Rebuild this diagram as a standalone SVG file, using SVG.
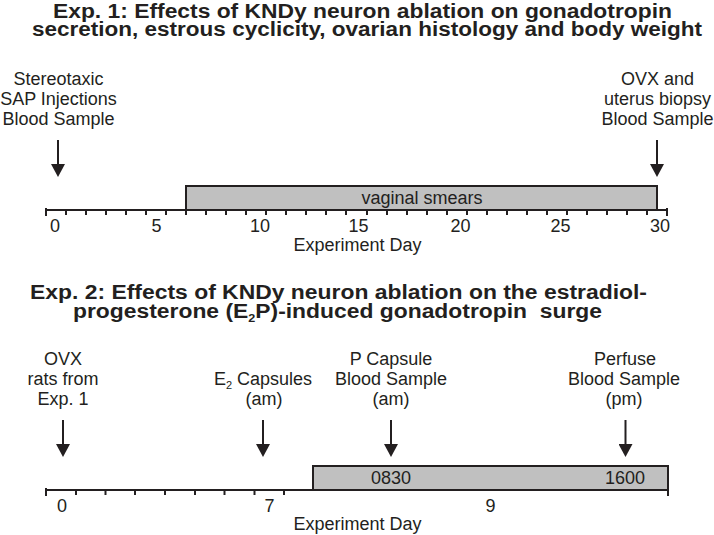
<svg xmlns="http://www.w3.org/2000/svg" width="714" height="535" viewBox="0 0 714 535">
<style>
  text { font-family: "Liberation Sans", Arial, sans-serif; fill: #231f20; }
  .title { font-size: 20px; font-weight: bold; white-space: pre; }
  .lbl { font-size: 18px; text-anchor: middle; }
  .num { font-size: 18px; text-anchor: middle; }
  .axis { stroke: #231f20; stroke-width: 2; fill: none; }
  .tick { stroke: #231f20; stroke-width: 2; }
  .box { fill: #c0c0c0; stroke: #231f20; stroke-width: 2; }
  .arrow { stroke: #231f20; stroke-width: 2; fill: none; marker-end: url(#head); }
  .sub { font-size: 11px; }
</style>
<defs>
  <marker id="head" markerUnits="userSpaceOnUse" markerWidth="14" markerHeight="14" refX="0" refY="7" orient="auto">
    <path d="M0,0 L13,7 L0,14 z" fill="#231f20"/>
  </marker>
</defs>
<rect width="714" height="535" fill="#ffffff"/>

<g id="title1">
  <text class="title" x="53" y="18" textLength="619" lengthAdjust="spacingAndGlyphs">Exp. 1: Effects of KNDy neuron ablation on gonadotropin</text>
  <text class="title" x="32" y="36" textLength="670" lengthAdjust="spacingAndGlyphs">secretion, estrous cyclicity, ovarian histology and body weight</text>
</g>

<g id="exp1-start-label">
  <text class="lbl" x="58.5" y="85">Stereotaxic</text>
  <text class="lbl" x="58.5" y="105">SAP Injections</text>
  <text class="lbl" x="58.5" y="125">Blood Sample</text>
</g>
<g id="exp1-end-label">
  <text class="lbl" x="657.5" y="85">OVX and</text>
  <text class="lbl" x="657.5" y="105">uterus biopsy</text>
  <text class="lbl" x="657.5" y="125">Blood Sample</text>
</g>

<g id="exp1-smears">
  <rect class="box" x="186" y="186" width="471" height="24"/>
  <text class="lbl" x="422" y="204">vaginal smears</text>
</g>

<g id="exp1-axis">
  <line class="axis" x1="45" y1="210" x2="668" y2="210"/>
  <g class="tick">
    <line x1="46" y1="208" x2="46" y2="216"/>
    <line x1="66" y1="210" x2="66" y2="215"/>
    <line x1="86" y1="210" x2="86" y2="215"/>
    <line x1="106" y1="210" x2="106" y2="215"/>
    <line x1="126" y1="210" x2="126" y2="215"/>
    <line x1="146" y1="210" x2="146" y2="215"/>
    <line x1="166" y1="210" x2="166" y2="215"/>
    <line x1="186" y1="210" x2="186" y2="215"/>
    <line x1="206" y1="210" x2="206" y2="215"/>
    <line x1="226" y1="210" x2="226" y2="215"/>
    <line x1="246" y1="210" x2="246" y2="215"/>
    <line x1="266" y1="210" x2="266" y2="215"/>
    <line x1="286" y1="210" x2="286" y2="215"/>
    <line x1="306" y1="210" x2="306" y2="215"/>
    <line x1="326" y1="210" x2="326" y2="215"/>
    <line x1="346" y1="210" x2="346" y2="215"/>
    <line x1="367" y1="210" x2="367" y2="215"/>
    <line x1="387" y1="210" x2="387" y2="215"/>
    <line x1="407" y1="210" x2="407" y2="215"/>
    <line x1="427" y1="210" x2="427" y2="215"/>
    <line x1="447" y1="210" x2="447" y2="215"/>
    <line x1="467" y1="210" x2="467" y2="215"/>
    <line x1="487" y1="210" x2="487" y2="215"/>
    <line x1="507" y1="210" x2="507" y2="215"/>
    <line x1="527" y1="210" x2="527" y2="215"/>
    <line x1="547" y1="210" x2="547" y2="215"/>
    <line x1="567" y1="210" x2="567" y2="215"/>
    <line x1="587" y1="210" x2="587" y2="215"/>
    <line x1="607" y1="210" x2="607" y2="215"/>
    <line x1="627" y1="210" x2="627" y2="215"/>
    <line x1="647" y1="210" x2="647" y2="215"/>
    <line x1="667" y1="208" x2="667" y2="216"/>
  </g>
  <text class="num" x="55" y="232">0</text>
  <text class="num" x="156.5" y="232">5</text>
  <text class="num" x="260" y="232">10</text>
  <text class="num" x="358.5" y="232">15</text>
  <text class="num" x="460.5" y="232">20</text>
  <text class="num" x="560.5" y="232">25</text>
  <text class="num" x="660" y="232">30</text>
  <text class="lbl" x="357.5" y="251">Experiment Day</text>
</g>

<g id="title2">
  <text class="title" x="30" y="299" textLength="617" lengthAdjust="spacingAndGlyphs">Exp. 2: Effects of KNDy neuron ablation on the estradiol-</text>
  <text class="title" x="73" y="318" textLength="529" lengthAdjust="spacingAndGlyphs">progesterone (E<tspan class="sub" dy="4">2</tspan><tspan dy="-4">P)-induced gonadotropin  surge</tspan></text>
</g>

<g id="exp2-ovx-label">
  <text class="lbl" x="63" y="365">OVX</text>
  <text class="lbl" x="63" y="385">rats from</text>
  <text class="lbl" x="63" y="405">Exp. 1</text>
</g>
<g id="exp2-e2-label">
  <text class="lbl" x="263" y="385">E<tspan class="sub" dy="4">2</tspan><tspan dy="-4"> Capsules</tspan></text>
  <text class="lbl" x="264" y="405">(am)</text>
</g>
<g id="exp2-p-label">
  <text class="lbl" x="391" y="365">P Capsule</text>
  <text class="lbl" x="391" y="385">Blood Sample</text>
  <text class="lbl" x="391" y="405">(am)</text>
</g>
<g id="exp2-perfuse-label">
  <text class="lbl" x="625" y="365">Perfuse</text>
  <text class="lbl" x="624" y="385">Blood Sample</text>
  <text class="lbl" x="624" y="405">(pm)</text>
</g>

<g id="exp2-surge">
  <rect class="box" x="313" y="466" width="355" height="24"/>
  <text class="num" x="391" y="484">0830</text>
  <text class="num" x="625" y="484">1600</text>
</g>

<g id="exp2-axis">
  <line class="axis" x1="45" y1="490" x2="669" y2="490"/>
  <g class="tick">
    <line x1="46" y1="488" x2="46" y2="496"/>
    <line x1="76" y1="490" x2="76" y2="495"/>
    <line x1="105.5" y1="490" x2="105.5" y2="495"/>
    <line x1="135" y1="490" x2="135" y2="495"/>
    <line x1="165" y1="490" x2="165" y2="495"/>
    <line x1="195" y1="490" x2="195" y2="495"/>
    <line x1="224.5" y1="490" x2="224.5" y2="495"/>
    <line x1="254.5" y1="490" x2="254.5" y2="495"/>
    <line x1="284" y1="490" x2="284" y2="495"/>
    <line x1="668" y1="490" x2="668" y2="496"/>
  </g>
  <text class="num" x="62" y="512">0</text>
  <text class="num" x="269.5" y="512">7</text>
  <text class="num" x="490.5" y="512">9</text>
  <text class="lbl" x="357.5" y="530">Experiment Day</text>
</g>

<g id="connectors">
  <line class="arrow" x1="58" y1="140" x2="58" y2="164"/>
  <line class="arrow" x1="657" y1="140" x2="657" y2="164"/>
  <line class="arrow" x1="63" y1="420" x2="63" y2="444"/>
  <line class="arrow" x1="263" y1="420" x2="263" y2="444"/>
  <line class="arrow" x1="391" y1="420" x2="391" y2="444"/>
  <line class="arrow" x1="625.5" y1="420" x2="625.5" y2="444"/>
</g>
</svg>
